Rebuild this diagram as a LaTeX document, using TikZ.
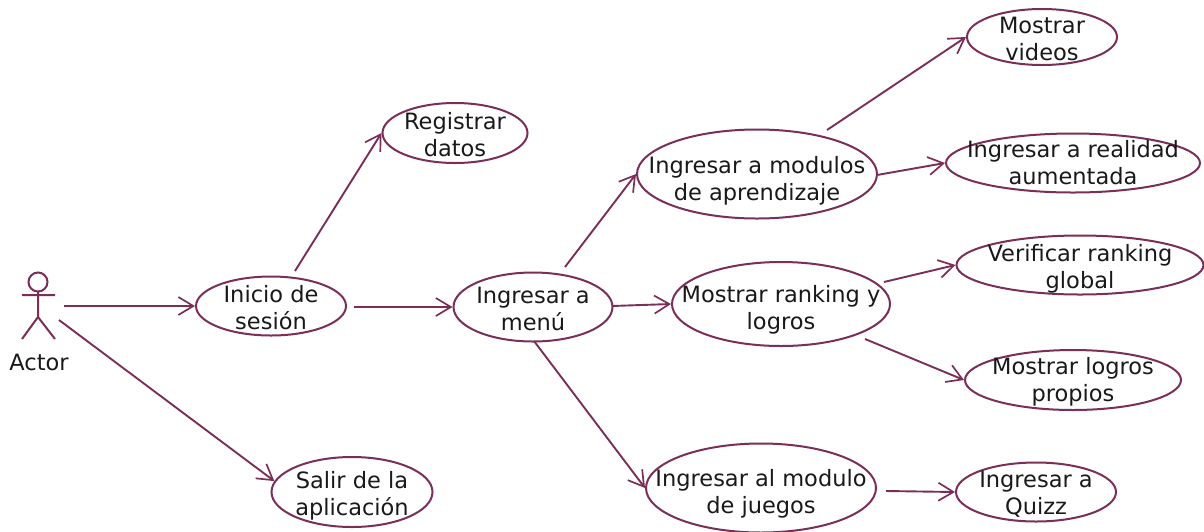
\documentclass[tikz,border=0pt]{standalone}
\usepackage{fontspec}
\setmainfont{DejaVu Sans}
\usetikzlibrary{arrows.meta,shapes.geometric}
\definecolor{plum}{HTML}{7A2E58}
\tikzset{
  uc/.style={draw=plum,line width=2pt,ellipse,inner sep=0pt},
  lbl/.style={inner sep=0pt,text=black!90,font=\fontsize{22.5}{27}\selectfont,align=center},
  conn/.style={draw=plum,line width=1.9pt,-{Straight Barb[length=15pt,width=18pt,line width=1.7pt]}},
  body/.style={draw=plum,line width=2pt}
}
\begin{document}
\begin{tikzpicture}[x=1pt,y=-1pt]
\useasboundingbox (0,0) rectangle (1204,531);
\node[uc,minimum width=150pt,minimum height=59pt] (ini) at (271,306) {};
\node[uc,minimum width=145pt,minimum height=60pt] (reg) at (455,133) {};
\node[uc,minimum width=159pt,minimum height=69pt] (men) at (533,307) {};
\node[uc,minimum width=240pt,minimum height=89pt] (apr) at (757,174) {};
\node[uc,minimum width=218pt,minimum height=84pt] (ran) at (781,304) {};
\node[uc,minimum width=230pt,minimum height=89pt] (jue) at (761,488) {};
\node[uc,minimum width=150pt,minimum height=56pt] (vid) at (1042,37) {};
\node[uc,minimum width=254pt,minimum height=59pt] (rea) at (1073,163) {};
\node[uc,minimum width=247pt,minimum height=59pt] (glo) at (1080,265) {};
\node[uc,minimum width=216pt,minimum height=60pt] (pro) at (1073,380) {};
\node[uc,minimum width=160pt,minimum height=59pt] (qui) at (1036,492) {};
\node[uc,minimum width=161pt,minimum height=70pt] (sal) at (352,492) {};
\node[lbl] (init) at (271,308) {Inicio de\\sesión};
\node[lbl] (regt) at (455,135) {Registrar\\datos};
\node[lbl] (ment) at (533,308.5) {Ingresar a\\menú};
\node[lbl] (aprt) at (757,181) {Ingresar a modulos\\de aprendizaje};
\node[lbl] (rant) at (781,309.5) {Mostrar ranking y\\logros};
\node[lbl] (juet) at (761,493.5) {Ingresar al modulo\\de juegos};
\node[lbl] (vidt) at (1042,39) {Mostrar\\videos};
\node[lbl] (reat) at (1073,162.5) {Ingresar a realidad\\aumentada};
\node[lbl] (glot) at (1080,269) {Verificar ranking\\global};
\node[lbl] (prot) at (1073,381.5) {Mostrar logros\\propios};
\node[lbl] (quit) at (1036,494) {Ingresar a\\Quizz};
\node[lbl] (salt) at (352,496) {Salir de la\\aplicación};
\node[lbl] (act) at (39,362) {Actor};
\coordinate (head) at (38,282);
\draw[body] (head) circle (9.5);
\draw[body] (38,291.5) -- (38,317) (22,295) -- (55,295) (38,317) -- (22,339) (38,317) -- (55,339);
\coordinate (a1) at (64,306);
\coordinate (a2) at (59,320);
\draw[conn] (a1) -- (ini.west);
\draw[conn] (a2) -- (sal.172);
\coordinate (i1) at (295,271);
\coordinate (i2) at (354,307);
\coordinate (m1) at (565,267);
\coordinate (m2) at (612,306);
\coordinate (m3) at (534,341);
\coordinate (p1) at (827,130);
\coordinate (p2) at (877,175);
\coordinate (r1) at (884,282);
\coordinate (r2) at (865,339);
\coordinate (j1) at (886,491);
\draw[conn] (i1) -- (reg.west);
\draw[conn] (i2) -- (men.west);
\draw[conn] (m1) -- (apr.west);
\draw[conn] (m2) -- (ran.west);
\draw[conn] (m3) -- (jue.west);
\draw[conn] (p1) -- (vid.west);
\draw[conn] (p2) -- (rea.west);
\draw[conn] (r1) -- (glo.west);
\draw[conn] (r2) -- (pro.west);
\draw[conn] (j1) -- (qui.west);
\end{tikzpicture}
\end{document}
